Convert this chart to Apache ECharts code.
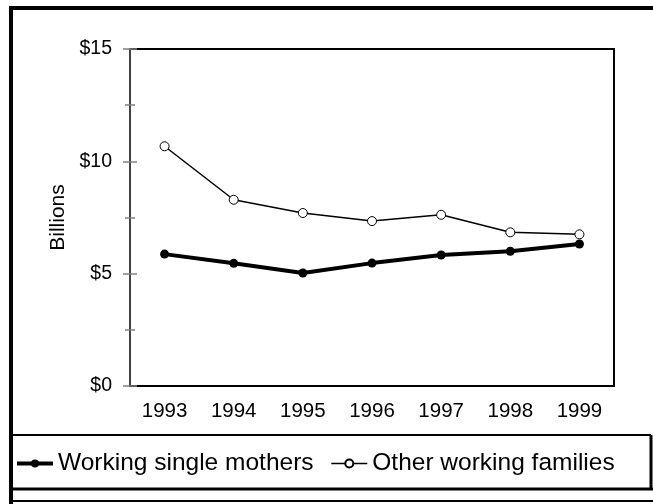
<!DOCTYPE html>
<html>
<head>
<meta charset="utf-8">
<script src="https://cdn.jsdelivr.net/npm/echarts@6/dist/echarts.min.js"></script>
<style>
  html, body { margin: 0; padding: 0; background: #fff; }
  #chart { width: 653px; height: 504px; }
</style>
</head>
<body>
<div id="chart"></div>
<script>
const years = ['1993', '1994', '1995', '1996', '1997', '1998', '1999']
const singleMothers = [5.87, 5.46, 5.03, 5.47, 5.83, 6.0, 6.32]
const otherFamilies = [10.67, 8.29, 7.7, 7.34, 7.62, 6.84, 6.75]
const yTicks = [0, 5, 10, 15]

const font = 'Liberation Sans, Arial, sans-serif'
const chart = echarts.init(document.getElementById('chart'), null, { renderer: 'canvas' })

const baseY = {
  type: 'value',
  min: yTicks[0],
  max: yTicks[yTicks.length - 1],
  interval: 5,
  position: 'left',
  splitLine: { show: false },
  minorTick: { show: true, splitNumber: 2, length: 5, lineStyle: { color: '#808080', width: 1.5 } },
  minorSplitLine: { show: false }
}

chart.setOption({
  animation: false,
  grid: {
    left: 130, right: 39, top: 49, bottom: 118,
    show: true, borderColor: '#000', borderWidth: 2, backgroundColor: 'transparent'
  },
  legend: {
    left: 10, top: 446,
    itemWidth: 36, itemHeight: 10, itemGap: 17,
    textStyle: { fontFamily: font, fontSize: 24.5, color: '#000' },
    data: [
      { name: 'Working single mothers', lineStyle: { width: 4 } },
      { name: 'Other working families', lineStyle: { width: 1.5 } }
    ]
  },
  xAxis: [{
    type: 'category',
    data: years,
    boundaryGap: true,
    axisLine: { lineStyle: { color: '#000', width: 2 } },
    axisTick: { alignWithLabel: true, inside: false, length: 4, lineStyle: { color: '#808080', width: 1.5 } },
    axisLabel: { margin: 15, fontFamily: font, fontSize: 20.5, color: '#000' }
  }, {
    type: 'category',
    data: years,
    position: 'bottom',
    boundaryGap: true,
    axisLine: { show: false },
    axisTick: { alignWithLabel: true, inside: true, length: 5, lineStyle: { color: '#808080', width: 1.5 } },
    axisLabel: { show: false }
  }],
  yAxis: [Object.assign({}, baseY, {
    name: 'Billions',
    nameLocation: 'middle',
    nameGap: 57,
    nameTextStyle: { fontFamily: font, fontSize: 21, color: '#000' },
    axisLine: { show: true, lineStyle: { color: '#404040', width: 2 } },
    axisTick: { show: true, inside: false, length: 7, lineStyle: { color: '#808080', width: 1.5 } },
    axisLabel: { margin: 18, fontFamily: font, fontSize: 19.5, color: '#000', formatter: v => '$' + v }
  }), Object.assign({}, baseY, {
    axisLine: { show: false },
    axisTick: { show: true, inside: true, length: 7, lineStyle: { color: '#808080', width: 1.5 } },
    axisLabel: { show: false }
  })],
  series: [{
    name: 'Working single mothers',
    type: 'line',
    data: singleMothers,
    symbol: 'circle',
    symbolSize: 9,
    lineStyle: { color: '#000', width: 4 },
    itemStyle: { color: '#000' }
  }, {
    name: 'Other working families',
    type: 'line',
    data: otherFamilies,
    symbol: 'circle',
    symbolSize: 9,
    lineStyle: { color: '#000', width: 1.5 },
    itemStyle: { color: '#fff', borderColor: '#000', borderWidth: 1 }
  }],
  graphic: [
    // outer frame, runs off the right and bottom edges
    { type: 'rect', shape: { x: 11, y: 8, width: 700, height: 600 }, style: { fill: 'none', stroke: '#000', lineWidth: 4 } },
    // legend box
    { type: 'line', shape: { x1: 11, y1: 435, x2: 651, y2: 435 }, style: { stroke: '#000', lineWidth: 2 } },
    { type: 'line', shape: { x1: 651, y1: 435, x2: 651, y2: 489 }, style: { stroke: '#000', lineWidth: 3 } },
    { type: 'line', shape: { x1: 11, y1: 489, x2: 653, y2: 489 }, style: { stroke: '#000', lineWidth: 3 } },
    { type: 'line', shape: { x1: 11, y1: 501, x2: 653, y2: 501 }, style: { stroke: '#000', lineWidth: 2 } }
  ]
})
</script>
</body>
</html>
